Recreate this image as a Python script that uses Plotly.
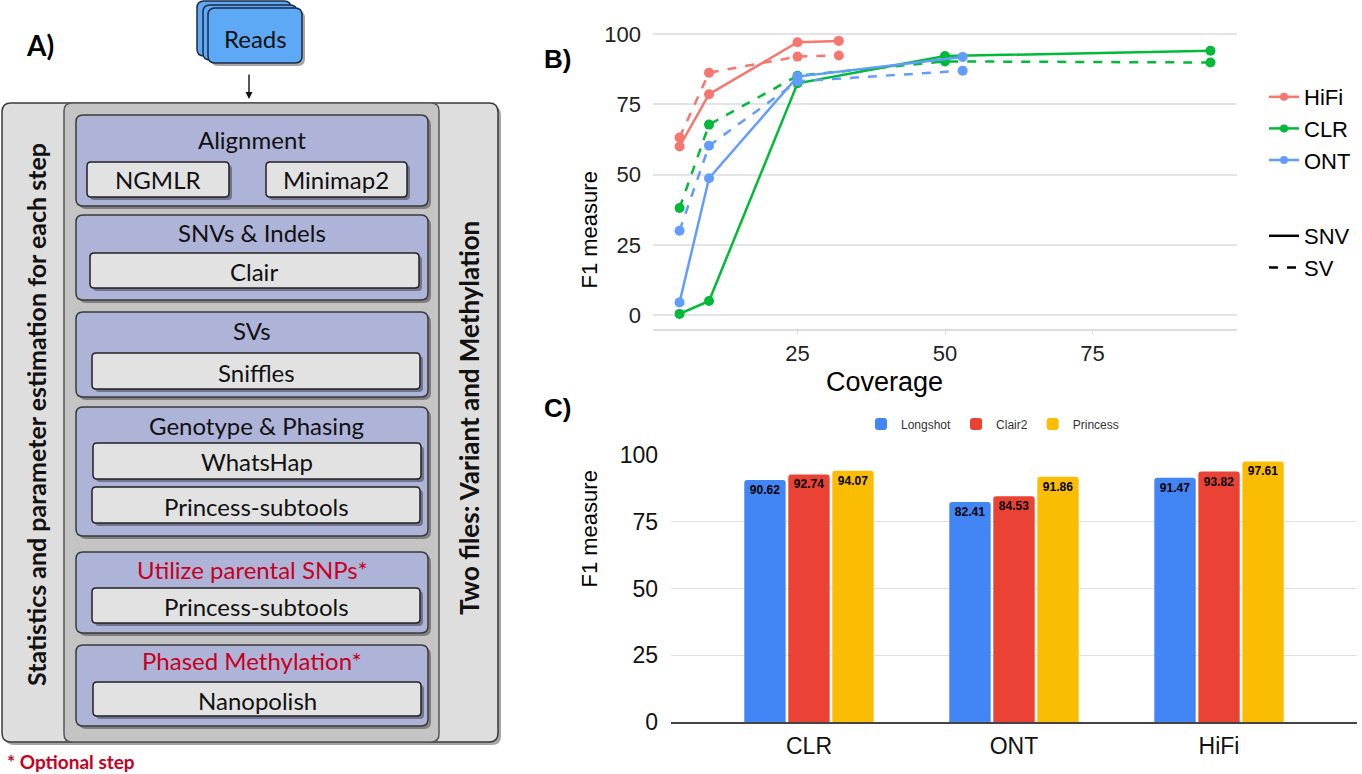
import plotly.graph_objects as go

W, H = 1362, 774

# ---------------- Panel B data (F1 vs coverage) ----------------
hifi_cov = [5, 10, 25, 32]
hifi_snv = [60.0, 78.6, 97.1, 97.6]
hifi_sv = [63.2, 86.3, 92.0, 92.4]
clr_cov = [5, 10, 25, 50, 95]
clr_snv = [0.4, 5.0, 82.5, 92.2, 94.1]
clr_sv = [38.1, 67.8, 85.2, 90.3, 89.9]
ont_cov = [5, 10, 25, 53]
ont_snv = [4.5, 48.7, 84.9, 91.9]
ont_sv = [30.0, 60.3, 83.2, 87.0]
b_ticks_x = [25, 50, 75]
b_ticks_y = [0, 25, 50, 75, 100]

# ---------------- Panel C data (bar chart) ----------------
platforms = ["CLR", "ONT", "HiFi"]
longshot = [90.62, 82.41, 91.47]
clair2 = [92.74, 84.53, 93.82]
princess = [94.07, 91.86, 97.61]
c_ticks_y = [0, 25, 50, 75, 100]

COL = {"HiFi": "#F8766D", "CLR": "#00BA38", "ONT": "#619CFF"}


def X(px):
    return px / W


def Y(py):
    return 1 - py / H


fig = go.Figure()

# ---- Panel B traces ----
series = [
    ("HiFi", hifi_cov, hifi_snv, hifi_sv),
    ("CLR", clr_cov, clr_snv, clr_sv),
    ("ONT", ont_cov, ont_snv, ont_sv),
]
for name, cov, snv, sv in series:
    fig.add_trace(go.Scatter(x=cov, y=sv, mode="lines+markers", xaxis="x", yaxis="y",
                             line=dict(color=COL[name], width=2.5, dash="dash"),
                             marker=dict(size=10, color=COL[name]), showlegend=False))
    fig.add_trace(go.Scatter(x=cov, y=snv, mode="lines+markers", xaxis="x", yaxis="y",
                             line=dict(color=COL[name], width=2.5),
                             marker=dict(size=10, color=COL[name]), showlegend=False))
for name, _, _, _ in series:
    fig.add_trace(go.Scatter(x=[None], y=[None], mode="lines+markers", name=name,
                             xaxis="x", yaxis="y", legend="legend",
                             line=dict(color=COL[name], width=2.5),
                             marker=dict(size=8, color=COL[name])))
fig.add_trace(go.Scatter(x=[None], y=[None], mode="lines", name="SNV", legend="legend2",
                         xaxis="x", yaxis="y", line=dict(color="black", width=2.5)))
fig.add_trace(go.Scatter(x=[None], y=[None], mode="lines", name="SV", legend="legend2",
                         xaxis="x", yaxis="y", line=dict(color="black", width=2.5, dash="dash")))

# ---- Panel C traces ----
for name, vals, col in [("Longshot", longshot, "#4285F4"), ("Clair2", clair2, "#EA4335"),
                        ("Princess", princess, "#FBBC04")]:
    fig.add_trace(go.Bar(x=platforms, y=vals, name=name, xaxis="x2", yaxis="y2", legend="legend3",
                         marker=dict(color=col, cornerradius=3, line=dict(width=0)),
                         texttemplate="<b>%{y:.2f}</b>", textposition="inside",
                         insidetextanchor="end", textangle=0,
                         textfont=dict(size=12, color="black", family="Liberation Sans")))

# ---------------- Panel A diagram (shapes) ----------------
shapes = []


def rrect(x0, y0, x1, y1, r, fill, line="#2b2b2b", lw=1.5, shadow=False):
    def path(a0, b0, a1, b1):
        rx, ry = r / W, r / H
        L, R, T, B = X(a0), X(a1), Y(b0), Y(b1)
        return (f"M {L+rx},{T} L {R-rx},{T} Q {R},{T} {R},{T-ry} "
                f"L {R},{B+ry} Q {R},{B} {R-rx},{B} L {L+rx},{B} "
                f"Q {L},{B} {L},{B+ry} L {L},{T-ry} Q {L},{T} {L+rx},{T} Z")
    if shadow:
        shapes.append(dict(type="path", xref="paper", yref="paper",
                           path=path(x0 + 3, y0 + 3, x1 + 3, y1 + 3),
                           fillcolor="rgba(0,0,0,0.35)", line=dict(width=0), layer="below"))
    shapes.append(dict(type="path", xref="paper", yref="paper", path=path(x0, y0, x1, y1),
                       fillcolor=fill, line=dict(color=line, width=lw), layer="below"))


# Reads stack
for dx, dy in [(-11, -7), (-5, -3), (0, 0)]:
    rrect(208 + dx, 8 + dy, 302 + dx, 63 + dy, 7, "#5DA9F6", line="#1d2b45", lw=1.5,
          shadow=(dx == 0))
# outer frames
rrect(2, 103, 498, 742, 9, "#DEDEDE", line="#3a3a3a", lw=1.5, shadow=True)
rrect(64, 103, 439, 742, 8, "#C4C4C4", line="#555555", lw=1.5)

STEP = "#AEB3D8"
SUB = "#E2E2E2"
steps = [(115, 206), (215, 300), (312, 397), (407, 536), (552, 633), (645, 726)]
for y0, y1 in steps:
    rrect(76, y0, 428, y1, 7, STEP, line="#3a3a3a", lw=1.5, shadow=True)
subs = [(87, 162, 229, 197), (266, 162, 407, 197), (90, 253, 419, 288), (92, 353, 420, 389),
        (93, 443, 421, 479), (92, 487, 420, 523), (92, 588, 420, 623), (93, 682, 421, 716)]
for x0, y0, x1, y1 in subs:
    rrect(x0, y0, x1, y1, 4, SUB, line="#222222", lw=1.5, shadow=True)

ann = []
AF = "Lato"


def txt(x, y, t, size=24, color="#111111", bold=False, angle=0, family=AF, anchor="center"):
    if bold:
        t = f"<b>{t}</b>"
    ann.append(dict(x=X(x), y=Y(y), xref="paper", yref="paper", text=t, showarrow=False,
                    xanchor=anchor, yanchor="middle", textangle=angle,
                    font=dict(size=size, color=color, family=family)))


txt(255, 38, "Reads", 24)
txt(40, 45, "A)", 28, bold=True, color="black")
txt(252, 139, "Alignment")
txt(158, 180, "NGMLR")
txt(336, 180, "Minimap2")
txt(252, 232, "SNVs & Indels")
txt(254, 271, "Clair")
txt(252, 330, "SVs")
txt(256, 372, "Sniffles")
txt(256, 425, "Genotype & Phasing")
txt(257, 462, "WhatsHap")
txt(256, 506, "Princess-subtools")
txt(252, 569, "Utilize parental SNPs*", color="#C8001E")
txt(256, 606, "Princess-subtools")
txt(252, 660, "Phased Methylation*", color="#C8001E")
txt(257, 700, "Nanopolish")
txt(36, 415, "Statistics and parameter estimation for each step", 25, bold=True, angle=-90)
txt(469, 418, "Two files: Variant and Methylation", 26, bold=True, angle=-90)
txt(5, 761, "* Optional step", 19, bold=True, color="#C8001E", anchor="left")

# arrow Reads -> pipeline
ann.append(dict(x=X(249), y=Y(99), xref="paper", yref="paper", ax=0, ay=-26, text="",
                showarrow=True, arrowhead=2, arrowsize=1, arrowwidth=1.4, arrowcolor="#111"))

# panel labels & axis titles for B and C
BF = "Liberation Sans"
ann.append(dict(x=X(557), y=Y(42), xref="paper", yref="paper", text="<b>B)</b>", showarrow=False,
                font=dict(size=26, family=BF, color="black")))
ann.append(dict(x=X(557), y=Y(408), xref="paper", yref="paper", text="<b>C)</b>", showarrow=False,
                font=dict(size=26, family=BF, color="black")))
ann.append(dict(x=X(589), y=Y(170), xref="paper", yref="paper", text="F1 measure", showarrow=False,
                textangle=-90, font=dict(size=22, family=BF, color="black")))
ann.append(dict(x=X(945), y=Y(382), xref="paper", yref="paper", text="Coverage", showarrow=False,
                font=dict(size=27, family=BF, color="black")))
ann.append(dict(x=X(589), y=Y(590), xref="paper", yref="paper", text="F1 measure", showarrow=False,
                textangle=-90, font=dict(size=22, family=BF, color="black")))

fig.update_layout(
    width=W, height=H, margin=dict(l=0, r=0, t=0, b=0, autoexpand=False),
    paper_bgcolor="white", plot_bgcolor="white",
    font=dict(family=BF, color="black"),
    shapes=shapes, annotations=ann,
    barmode="group", bargap=0.356, bargroupgap=0.06,
    xaxis=dict(domain=[X(653), X(1237)], range=[0.5, 99.5], tickvals=b_ticks_x,
               showgrid=False, zeroline=False, showline=True, linecolor="#DCDCE4", linewidth=1.5,
               ticks="outside", ticklen=4, tickcolor="#DCDCE4", ticklabelstandoff=0,
               tickfont=dict(size=22, color="#222"), anchor="y", automargin=False),
    yaxis=dict(domain=[Y(328.8), Y(26)], range=[-4.9, 102.9], tickvals=b_ticks_y,
               gridcolor="#E3E3EA", gridwidth=1.5, zeroline=False, showline=False,
               ticklabelstandoff=11, tickfont=dict(size=22, color="#222"), anchor="x",
               automargin=False),
    xaxis2=dict(domain=[X(671), X(1357)], range=[-0.673, 2.673], showgrid=False,
                showline=True, linecolor="#444", linewidth=1.5, ticks="",
                ticklabelstandoff=3, tickfont=dict(size=23, color="#111"), anchor="y2",
                automargin=False),
    yaxis2=dict(domain=[Y(722), Y(455)], range=[0, 100], tickvals=c_ticks_y,
                gridcolor="#E0E0E0", gridwidth=1, zeroline=False, showline=False,
                ticklabelstandoff=12, tickfont=dict(size=23, color="#111"), anchor="x2",
                automargin=False),
    legend=dict(x=X(1264), y=Y(76), xanchor="left", yanchor="top", font=dict(size=22, family=BF),
                bgcolor="rgba(0,0,0,0)", itemwidth=30, tracegroupgap=0),
    legend2=dict(x=X(1264), y=Y(215), xanchor="left", yanchor="top", font=dict(size=22, family=BF),
                 bgcolor="rgba(0,0,0,0)", itemwidth=30),
    legend3=dict(x=X(861), y=Y(424), xanchor="left", yanchor="middle", orientation="h",
                 font=dict(size=12, family=BF, color="#333"), bgcolor="rgba(0,0,0,0)",
                 itemwidth=30),
)

fig.write_html("out.html", config={"displayModeBar": False},
               post_script="document.body.style.margin='0px';document.body.style.overflow='hidden';")
